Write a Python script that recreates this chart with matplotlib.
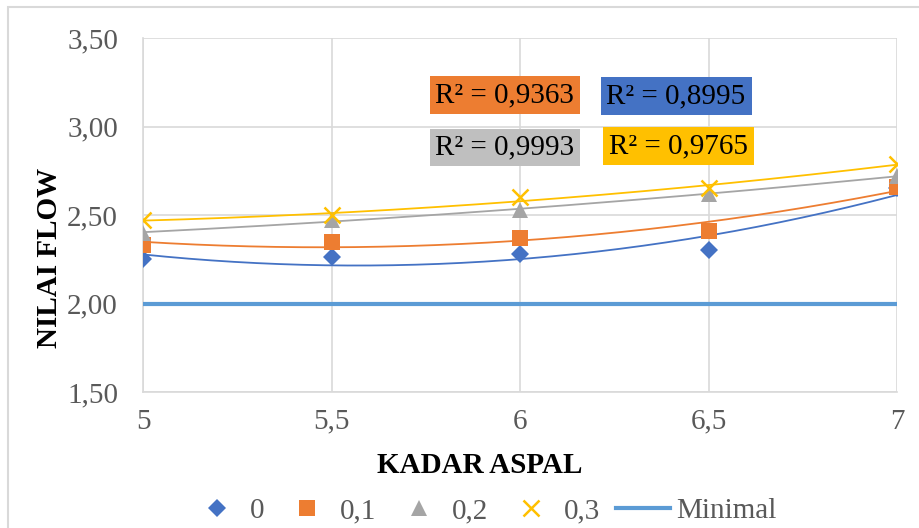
import numpy as np
import matplotlib
matplotlib.use("Agg")
import matplotlib.pyplot as plt
from matplotlib.patches import Rectangle

plt.rcParams['font.family'] = ['Liberation Serif', 'DejaVu Serif']

# data
kadar = [5, 5.5, 6, 6.5, 7]
flow_0 = [2.25, 2.26, 2.28, 2.30, 2.65]
flow_01 = [2.33, 2.35, 2.37, 2.41, 2.66]
flow_02 = [2.40, 2.47, 2.53, 2.62, 2.72]
flow_03 = [2.47, 2.50, 2.60, 2.65, 2.79]
minimal = [2.0, 2.0, 2.0, 2.0, 2.0]

labels = ['0', '0,1', '0,2', '0,3']
r2_text = ['0,8995', '0,9363', '0,9993', '0,9765']
yticks = [1.5, 2.0, 2.5, 3.0, 3.5]
xticks = [5, 5.5, 6, 6.5, 7]

colors = ['#4472C4', '#ED7D31', '#A5A5A5', '#FFC000']
markers = ['D', 's', '^', 'x']
msizes = [9, 12, 12, 12]
box_colors = ['#4472C4', '#ED7D31', '#BFBFBF', '#FFC000']
box_pos = [(0.707, 0.836), (0.480, 0.839), (0.480, 0.691), (0.710, 0.694)]

fig = plt.figure(figsize=(9.2, 5.28), dpi=100)
fig.patches.append(Rectangle((8/920, -0.1), 1.2, 1 - 7/528 + 0.1, transform=fig.transFigure,
                             fill=False, edgecolor='#D9D9D9', lw=1.5))
ax = fig.add_axes((143/920, 1 - 392/528, 754/920, 354/528))

xs = np.linspace(5, 7, 200)
for i, ys in enumerate([flow_0, flow_01, flow_02, flow_03]):
    coef = np.polyfit(kadar, ys, 2)
    ax.plot(xs, np.polyval(coef, xs), color=colors[i], lw=1.3, zorder=3)
    mew = 1.8 if markers[i] == 'x' else 0
    ax.plot(kadar, ys, linestyle='none', marker=markers[i], ms=msizes[i],
            color=colors[i], mew=mew, label=labels[i], zorder=4)

ax.plot(kadar, minimal, color='#5B9BD5', lw=3, label='Minimal', zorder=3)

for i in range(4):
    ax.text(box_pos[i][0], box_pos[i][1], 'R² = ' + r2_text[i], transform=ax.transAxes,
            ha='center', va='center', fontsize=21, color='black', zorder=5,
            bbox=dict(boxstyle='square,pad=0.2', facecolor=box_colors[i], edgecolor='none'))

ax.set_xlim(5, 7)
ax.set_ylim(1.5, 3.5)
ax.set_xticks(xticks)
ax.set_xticklabels([str(x).replace('.', ',') for x in xticks])
ax.set_yticks(yticks)
ax.set_yticklabels([f'{y:.2f}'.replace('.', ',') for y in yticks])
ax.tick_params(length=0, labelsize=21, labelcolor='#595959')
ax.tick_params(axis='x', pad=12)
ax.tick_params(axis='y', pad=18)
ax.grid(True, color='#D9D9D9', lw=1.2)
ax.set_axisbelow(True)
for s in ['top', 'right']:
    ax.spines[s].set_visible(False)
for s in ['left', 'bottom']:
    ax.spines[s].set_color('#D9D9D9')
    ax.spines[s].set_linewidth(1.2)

ax.set_xlabel('KADAR ASPAL', fontsize=21, fontweight='bold')
ax.xaxis.label.set_va('center')
ax.xaxis.set_label_coords(0.447, -0.209)
ax.set_ylabel('NILAI FLOW', fontsize=21, fontweight='bold')
ax.yaxis.label.set_va('center')
ax.yaxis.set_label_coords(-0.124, 0.379)

leg = ax.legend(loc='center', bbox_to_anchor=(0.451, -0.336), ncol=5, frameon=False,
                fontsize=21, handlelength=1.85, columnspacing=0.55, handletextpad=0.2,
                borderaxespad=0, markerscale=1.0)
for t in leg.get_texts():
    t.set_color('#595959')

fig.savefig('out.png', dpi=100)
